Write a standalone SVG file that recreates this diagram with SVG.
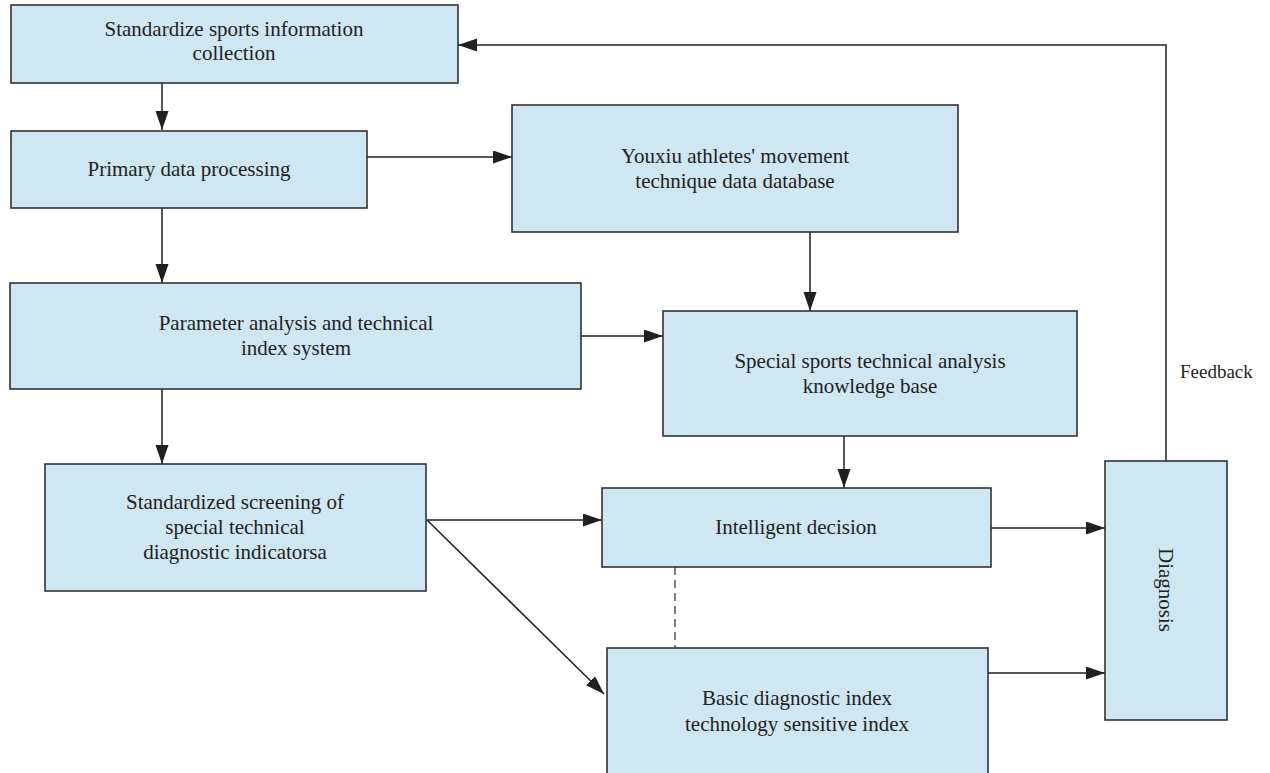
<svg xmlns="http://www.w3.org/2000/svg" width="1270" height="773" viewBox="0 0 1270 773">
<style>
.box{fill:#cfe6f3;stroke:#333;stroke-width:1.6}
.t{font-family:"Liberation Serif",serif;font-size:21px;fill:#231f20;text-anchor:middle}
.t2{font-family:"Liberation Serif",serif;font-size:19px;fill:#231f20}
.ln{fill:none;stroke:#231f20;stroke-width:1.5}
.dash{fill:none;stroke:#555;stroke-width:1.5;stroke-dasharray:8 5}
</style>
<defs>
<marker id="ah" markerUnits="userSpaceOnUse" markerWidth="20" markerHeight="14" refX="19" refY="6.5" orient="auto">
<path d="M0,0 L19,6.5 L0,13 z" fill="#231f20"/>
</marker>
</defs>
<rect width="1270" height="773" fill="#fff"/>
<g id="connectors">
<path class="ln" d="M162,83 V130" marker-end="url(#ah)"/>
<path class="ln" d="M367,157 H512" marker-end="url(#ah)"/>
<path class="ln" d="M162,208 V283" marker-end="url(#ah)"/>
<path class="ln" d="M810,232 V311" marker-end="url(#ah)"/>
<path class="ln" d="M581,336 H663" marker-end="url(#ah)"/>
<path class="ln" d="M162,389 V464" marker-end="url(#ah)"/>
<path class="ln" d="M844,436 V488" marker-end="url(#ah)"/>
<path class="ln" d="M427,520 H602" marker-end="url(#ah)"/>
<path class="ln" d="M427,520 L604,694" marker-end="url(#ah)"/>
<path class="dash" d="M675,567 V648"/>
<path class="ln" d="M991,528 H1105" marker-end="url(#ah)"/>
<path class="ln" d="M988,673 H1105" marker-end="url(#ah)"/>
<path class="ln" d="M1166,461 V45 H458" marker-end="url(#ah)"/>
<text class="t2" x="1180" y="378">Feedback</text>
</g>
<g id="n1">
<rect class="box" x="11" y="5" width="447" height="78"/>
<text class="t" x="234" y="36">Standardize sports information</text>
<text class="t" x="234" y="60">collection</text>
</g>
<g id="n2">
<rect class="box" x="11" y="131" width="356" height="77"/>
<text class="t" x="189" y="176">Primary data processing</text>
</g>
<g id="n3">
<rect class="box" x="512" y="105" width="446" height="127"/>
<text class="t" x="735" y="163">Youxiu athletes' movement</text>
<text class="t" x="735" y="188">technique data database</text>
</g>
<g id="n4">
<rect class="box" x="10" y="283" width="571" height="106"/>
<text class="t" x="296" y="330">Parameter analysis and technical</text>
<text class="t" x="296" y="355">index system</text>
</g>
<g id="n5">
<rect class="box" x="663" y="311" width="414" height="125"/>
<text class="t" x="870" y="368">Special sports technical analysis</text>
<text class="t" x="870" y="393">knowledge base</text>
</g>
<g id="n6">
<rect class="box" x="45" y="464" width="381" height="127"/>
<text class="t" x="235" y="509">Standardized screening of</text>
<text class="t" x="235" y="534">special technical</text>
<text class="t" x="235" y="559">diagnostic indicatorsa</text>
</g>
<g id="n7">
<rect class="box" x="602" y="488" width="389" height="79"/>
<text class="t" x="796" y="534">Intelligent decision</text>
</g>
<g id="n8">
<rect class="box" x="607" y="648" width="381" height="135"/>
<text class="t" x="797" y="705">Basic diagnostic index</text>
<text class="t" x="797" y="731">technology sensitive index</text>
</g>
<g id="n9">
<rect class="box" x="1105" y="461" width="122" height="259"/>
<text class="t" x="1166" y="590" dominant-baseline="central" transform="rotate(90 1166 590)">Diagnosis</text>
</g>
</svg>
